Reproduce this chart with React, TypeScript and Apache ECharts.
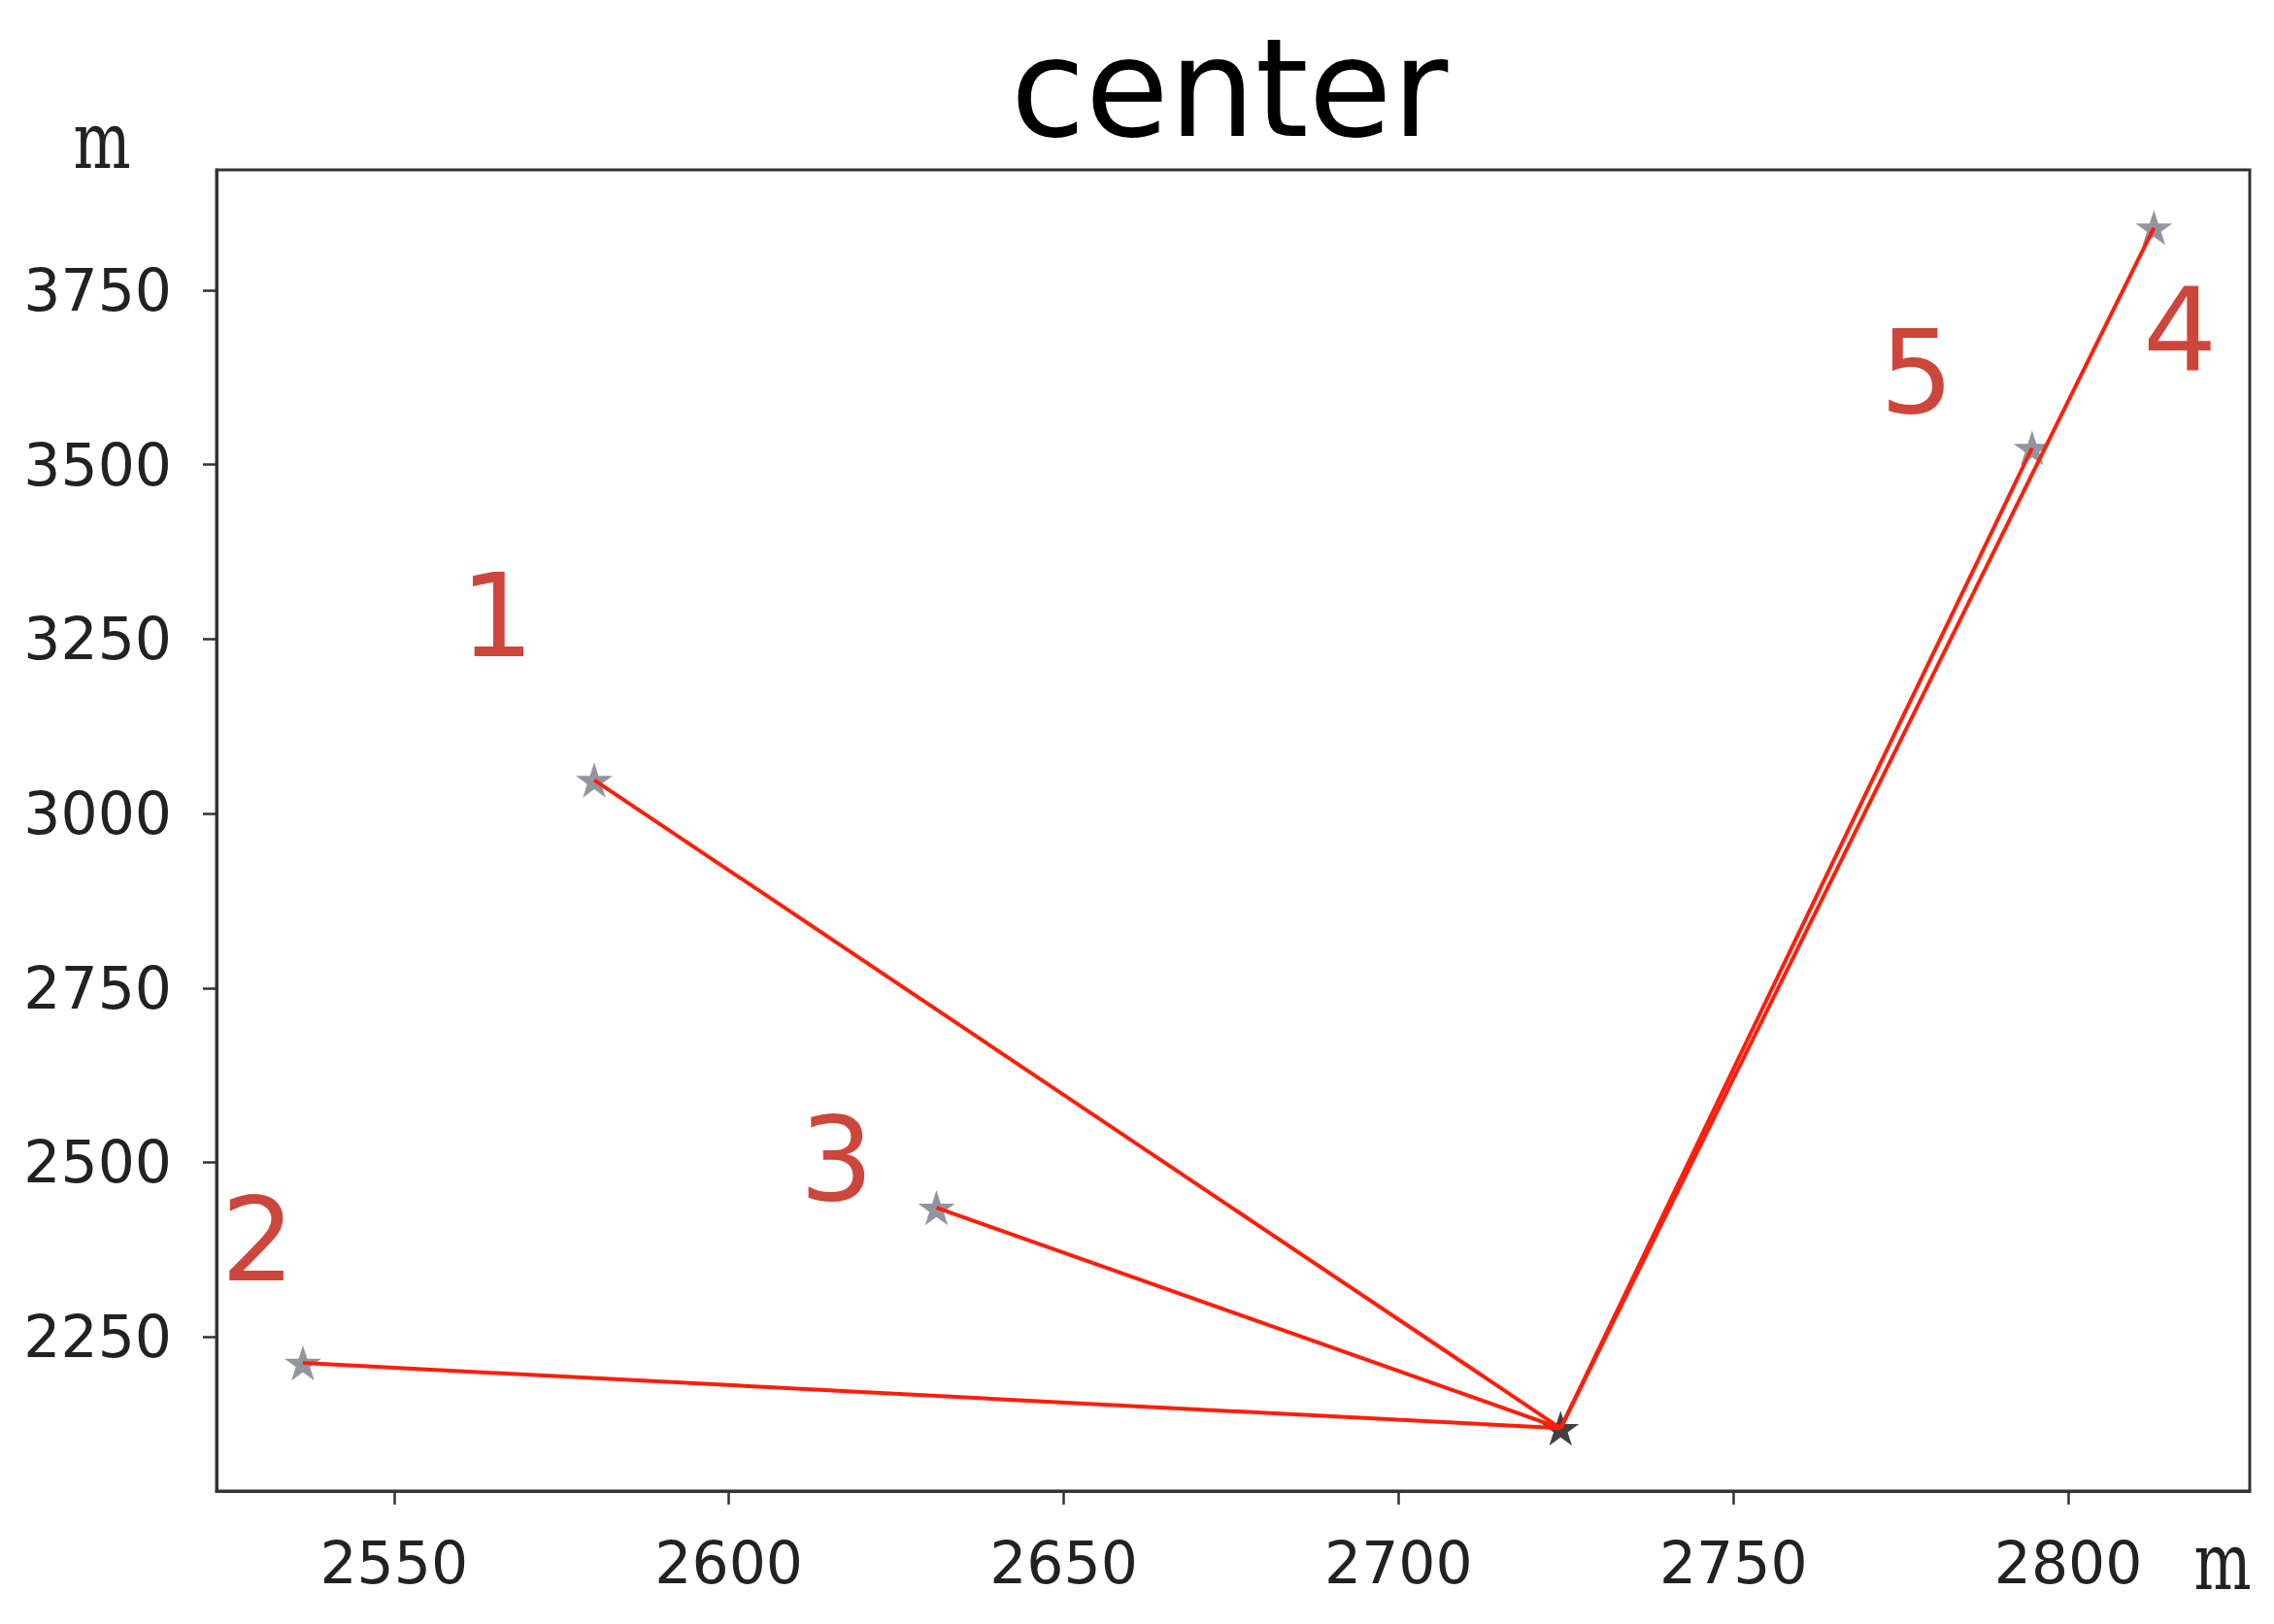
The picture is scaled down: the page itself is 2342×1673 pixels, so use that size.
import React, { useEffect, useRef } from "react";
import * as echarts from "echarts";

const titleText = "center";
const unitLabel = "m";
const xRange = [2523.5, 2827.1];
const yRange = [2029, 3922.5];
const xTicks = [2550, 2600, 2650, 2700, 2750, 2800];
const yTicks = [2250, 2500, 2750, 3000, 3250, 3500, 3750];
const centerPoint = [2724.2, 2119];
const stationNames = ["1", "2", "3", "4", "5"];
const stationX = [2579.9, 2536.4, 2631.0, 2812.8, 2794.6];
const stationY = [3048, 2212.5, 2435, 3839.7, 3523.9];
const labelX = [2565.4, 2529.7, 2616.1, 2816.7, 2777.4];
const labelY = [3282.8, 2389, 2503.5, 3692, 3631.9];

const STAR =
  "path://M50,0L61.2,34.5L97.6,34.5L68.2,55.9L79.4,90.5L50,69.1L20.6,90.5L31.8,55.9L2.4,34.5L38.8,34.5Z";

export default function App() {
  const ref = useRef<HTMLDivElement>(null);
  useEffect(() => {
    if (!ref.current) return;
    const chart = echarts.init(ref.current, null, { renderer: "svg" });
    // div sits at page (8,8) because of body margin; size 2326x1657
    const gridLeft = 215;
    const gridTop = 167;
    const gridRight = 17;
    const gridBottom = 129;
    chart.setOption({
      animation: false,
      backgroundColor: "#ffffff",
      grid: {
        left: gridLeft,
        top: gridTop,
        right: gridRight,
        bottom: gridBottom,
        show: true,
        borderColor: "#333",
        borderWidth: 3,
        backgroundColor: "transparent",
      },
      xAxis: {
        type: "value",
        min: xRange[0],
        max: xRange[1],
        splitLine: { show: false },
        axisLine: { show: true, onZero: false, lineStyle: { color: "#333", width: 3 } },
        axisTick: {
          show: true,
          length: 14,
          lineStyle: { color: "#333", width: 2.5 },
          customValues: xTicks,
        },
        axisLabel: {
          customValues: xTicks,
          formatter: (v: number) => String(v),
          fontFamily: "DejaVu Sans",
          fontSize: 60,
          color: "#222",
          margin: 44,
        },
      },
      yAxis: {
        type: "value",
        min: yRange[0],
        max: yRange[1],
        splitLine: { show: false },
        axisLine: { show: true, onZero: false, lineStyle: { color: "#333", width: 3 } },
        axisTick: {
          show: true,
          length: 14,
          lineStyle: { color: "#333", width: 2.5 },
          customValues: yTicks,
        },
        axisLabel: {
          customValues: yTicks,
          formatter: (v: number) => String(v),
          fontFamily: "DejaVu Sans",
          fontSize: 60,
          color: "#222",
          margin: 46,
        },
      },
      graphic: [
        {
          type: "text",
          x: 1258,
          y: 83,
          style: {
            text: titleText,
            fontFamily: "DejaVu Sans",
            fontSize: 140,
            fill: "#000",
            align: "center",
            verticalAlign: "middle",
          },
        },
        {
          type: "text",
          x: 97,
          y: 137,
          scaleX: 0.78,
          style: {
            text: unitLabel,
            fontFamily: "DejaVu Serif",
            fontSize: 80,
            fill: "#222",
            align: "center",
            verticalAlign: "middle",
          },
        },
        {
          type: "text",
          x: 2281,
          y: 1601,
          scaleX: 0.78,
          style: {
            text: unitLabel,
            fontFamily: "DejaVu Serif",
            fontSize: 80,
            fill: "#222",
            align: "center",
            verticalAlign: "middle",
          },
        },
      ],
      series: [
        {
          type: "scatter",
          name: "stations",
          symbol: STAR,
          symbolKeepAspect: true,
          symbolSize: 38,
          itemStyle: { color: "#868a94", opacity: 0.9 },
          data: stationX.map((x, i) => [x, stationY[i]]),
          z: 2,
        },
        {
          type: "scatter",
          name: "center",
          symbol: STAR,
          symbolKeepAspect: true,
          symbolSize: 38,
          itemStyle: { color: "#111" },
          data: [centerPoint],
          z: 2,
        },
        {
          type: "lines",
          coordinateSystem: "cartesian2d",
          lineStyle: { color: "#ff1e0a", width: 4, opacity: 1, curveness: 0 },
          data: stationX.map((x, i) => ({ coords: [centerPoint, [x, stationY[i]]] })),
          z: 3,
        },
        {
          type: "scatter",
          name: "labels",
          symbolSize: 0,
          data: labelX.map((x, i) => ({ name: stationNames[i], value: [x, labelY[i]] })),
          label: {
            show: true,
            position: "inside",
            formatter: (p: any) => p.name,
            fontFamily: "DejaVu Sans",
            fontSize: 120,
            color: "#c0180a",
          },
          z: 4,
        },
      ],
    });
    return () => chart.dispose();
  }, []);
  return <div ref={ref} style={{ width: 2326, height: 1657 }} />;
}
